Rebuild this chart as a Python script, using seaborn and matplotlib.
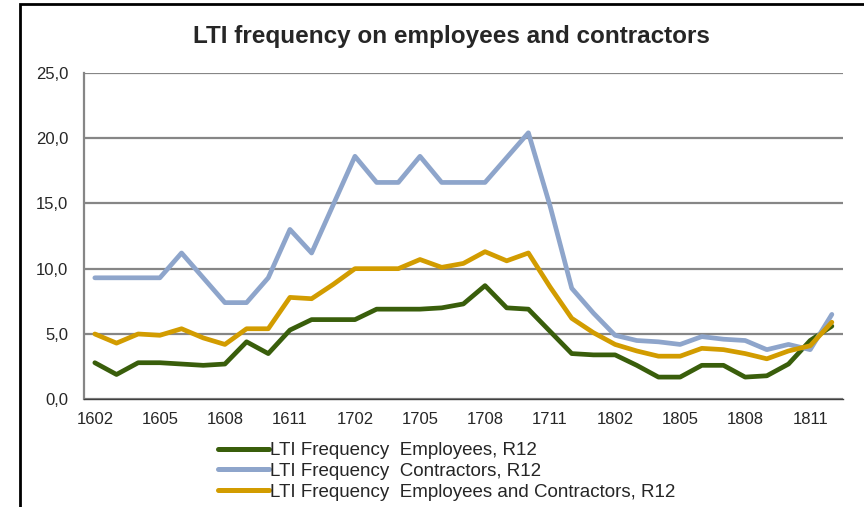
import numpy as np
import pandas as pd
import matplotlib
matplotlib.use("Agg")
import matplotlib.pyplot as plt
import matplotlib.patches as mpatches
import seaborn as sns

# periods yymm, monthly from 1602 to 1812
periods = ([str(1600 + m) for m in range(2, 13)] +
           [str(1700 + m) for m in range(1, 13)] +
           [str(1800 + m) for m in range(1, 13)])

employees = [2.8, 1.9, 2.8, 2.8, 2.7, 2.6, 2.7, 4.4, 3.5, 5.3, 6.1, 6.1,
             6.1, 6.9, 6.9, 6.9, 7.0, 7.3, 8.7, 7.0, 6.9, 5.2, 3.5, 3.4,
             3.4, 2.6, 1.7, 1.7, 2.6, 2.6, 1.7, 1.8, 2.7, 4.5, 5.6]
contractors = [9.3, 9.3, 9.3, 9.3, 11.2, 9.3, 7.4, 7.4, 9.3, 13.0, 11.2, 14.9,
               18.6, 16.6, 16.6, 18.6, 16.6, 16.6, 16.6, 18.5, 20.4, 14.8, 8.5, 6.6,
               4.9, 4.5, 4.4, 4.2, 4.8, 4.6, 4.5, 3.8, 4.2, 3.8, 6.5]
combined = [5.0, 4.3, 5.0, 4.9, 5.4, 4.7, 4.2, 5.4, 5.4, 7.8, 7.7, 8.8,
            10.0, 10.0, 10.0, 10.7, 10.1, 10.4, 11.3, 10.6, 11.2, 8.6, 6.2, 5.1,
            4.2, 3.7, 3.3, 3.3, 3.9, 3.8, 3.5, 3.1, 3.7, 4.1, 5.9]

series_names = ["LTI Frequency  Employees, R12",
                "LTI Frequency  Contractors, R12",
                "LTI Frequency  Employees and Contractors, R12"]
colors = ["#395e0b", "#8ea5cb", "#d29c00"]

df = pd.DataFrame({
    "idx": list(range(len(periods))) * 3,
    "value": employees + contractors + combined,
    "series": np.repeat(series_names, len(periods)),
})

sns.set_style("white")
plt.rcParams["font.family"] = ["Liberation Sans", "DejaVu Sans"]

fig = plt.figure(figsize=(8.64, 5.07), dpi=100)
ax = fig.add_axes([84 / 864, 1 - 399.3 / 507, (842.7 - 84) / 864, (399.3 - 72.7) / 507])

# chart frame
fig.patches.append(mpatches.Rectangle((20 / 864, -0.05), 1.0, (507 - 4) / 507 + 0.05,
                                      transform=fig.transFigure, fill=False,
                                      edgecolor="black", linewidth=2, zorder=0))

sns.lineplot(data=df, x="idx", y="value", hue="series", palette=colors,
             linewidth=3.4, ax=ax, legend=False)

ax.set_xlim(-0.5, len(periods) - 0.5)
ax.set_ylim(0, 25)
ax.set_yticks(np.arange(0, 26, 5))
ax.set_yticklabels([f"{v:.1f}".replace(".", ",") for v in np.arange(0, 26, 5)], fontsize=12)
ax.yaxis.grid(True, color="#868686", linewidth=1.6)
ax.set_axisbelow(True)

ax.set_xticks(range(0, len(periods), 3))
ax.set_xticklabels(periods[::3], fontsize=12)
ax.set_xticks(np.arange(-0.5, len(periods), 1), minor=True)
ax.tick_params(axis="x", which="major", length=0, pad=9)
ax.tick_params(axis="x", which="minor", length=5, width=1, color="#404040", direction="out")
ax.tick_params(axis="y", length=5, width=1, color="#868686", pad=6.5)
ax.set_xlabel("")
ax.set_ylabel("")

for s in ["top", "right"]:
    ax.spines[s].set_visible(False)
ax.spines["left"].set_color("#868686")
ax.spines["left"].set_linewidth(1.6)
ax.spines["bottom"].set_color("#404040")
ax.spines["bottom"].set_linewidth(1)

fig.text(451.5 / 864, 1 - 37 / 507, "LTI frequency on employees and contractors",
         ha="center", va="center", fontsize=17.5, fontweight="bold")

handles = [plt.Line2D([], [], color=c, linewidth=3.6) for c in colors]
fig.legend(handles, series_names, loc="upper left", bbox_to_anchor=(218 / 864, 1 - 442 / 507),
           frameon=False, fontsize=13.5, handlelength=2.7, handletextpad=0.05,
           labelspacing=0.2, borderaxespad=0, borderpad=0)

fig.savefig("out.png", dpi=100)
